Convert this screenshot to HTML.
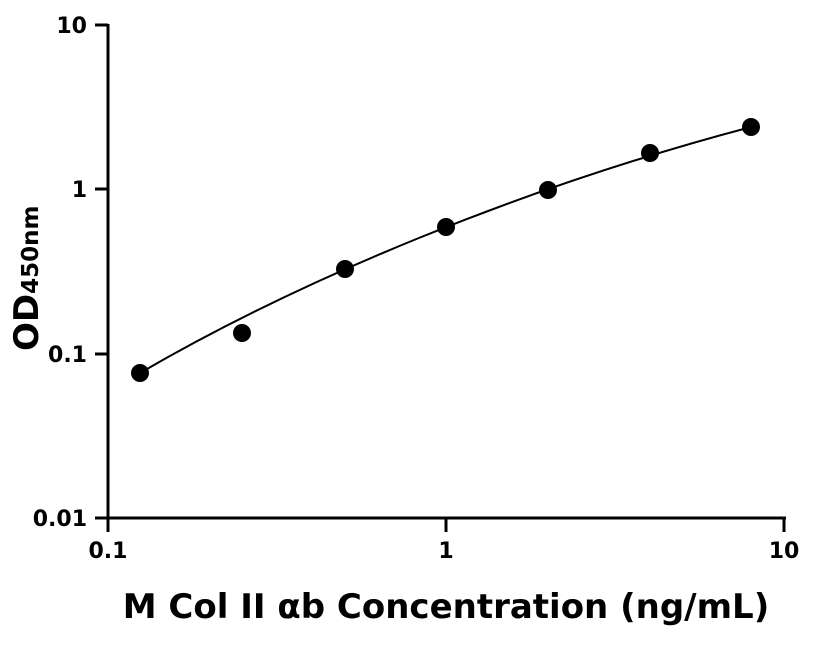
<!DOCTYPE html>
<html><head><meta charset="utf-8"><style>body{margin:0;background:#fff}</style></head><body>
<svg width="816" height="640" xmlns="http://www.w3.org/2000/svg" font-family="DejaVu Sans, sans-serif" font-weight="bold">
<g stroke="#000" stroke-width="3" fill="none">
<line x1="108" y1="24" x2="108" y2="532"/>
<line x1="95" y1="518" x2="786" y2="518"/>
<line x1="95" y1="25" x2="108" y2="25"/>
<line x1="95" y1="189" x2="108" y2="189"/>
<line x1="95" y1="354" x2="108" y2="354"/>
<line x1="446" y1="518" x2="446" y2="532"/>
<line x1="784" y1="518" x2="784" y2="532"/>
</g>
<path d="M140,373 C300,280 520,188 751,127" stroke="#000" stroke-width="2" fill="none"/>
<g fill="#000">
<circle cx="140" cy="373" r="9"/><circle cx="242" cy="333" r="9"/><circle cx="345" cy="269" r="9"/>
<circle cx="446" cy="227" r="9"/><circle cx="548" cy="190" r="9"/><circle cx="650" cy="153" r="9"/><circle cx="751" cy="127" r="9"/>
</g>
<g font-size="22" text-anchor="end">
<text x="87" y="33">10</text><text x="87" y="197">1</text><text x="87" y="362">0.1</text><text x="87" y="526">0.01</text>
</g>
<g font-size="22" text-anchor="middle">
<text x="108" y="558">0.1</text><text x="446" y="558">1</text><text x="784" y="558">10</text>
</g>
<text x="446" y="618" font-size="34" text-anchor="middle">M Col II αb Concentration (ng/mL)</text>
<text transform="translate(38,351) rotate(-90)" font-size="34">OD<tspan font-size="23">450nm</tspan></text>
</svg>
</body></html>
